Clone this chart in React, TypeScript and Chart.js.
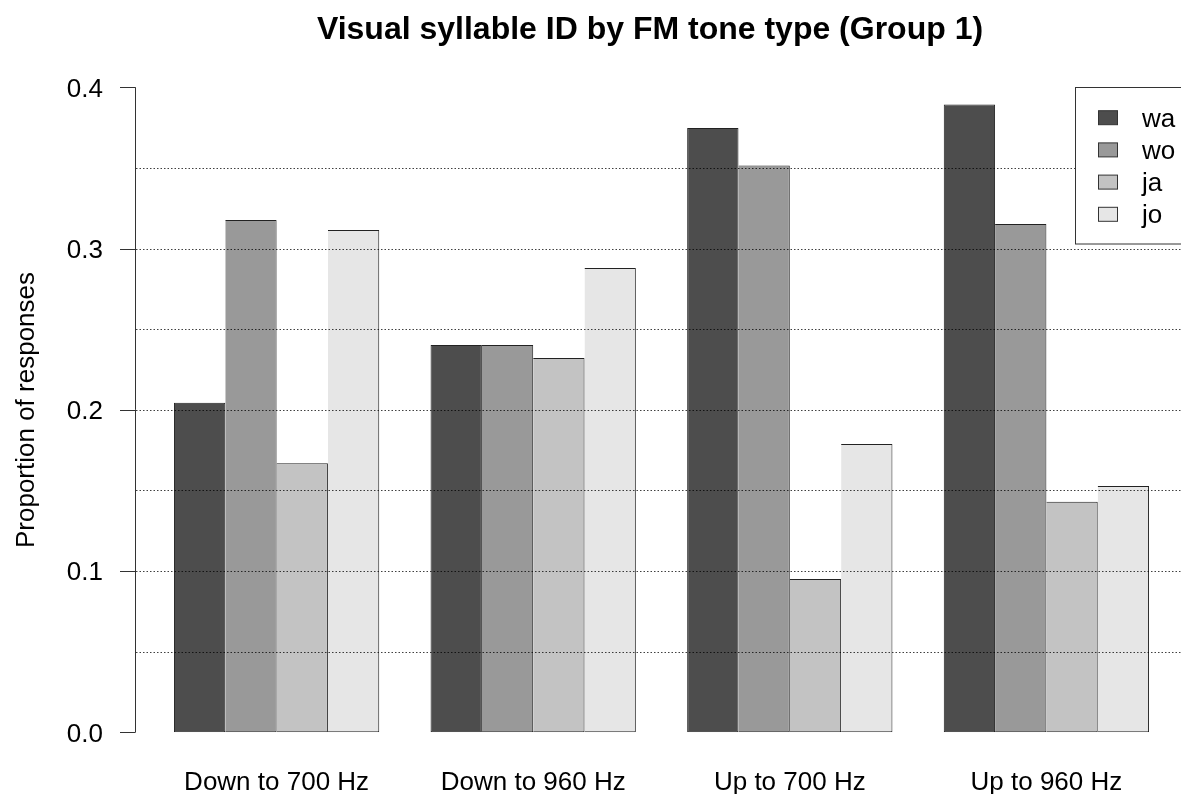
import React, { useEffect, useRef } from "react";
import { Chart, registerables } from "chart.js";

Chart.register(...registerables);

const categories = ["Down to 700 Hz", "Down to 960 Hz", "Up to 700 Hz", "Up to 960 Hz"];
const seriesNames = ["wa", "wo", "ja", "jo"];
const waValues = [0.2044, 0.2402, 0.3747, 0.3894];
const woValues = [0.3177, 0.2402, 0.3515, 0.3153];
const jaValues = [0.1668, 0.2321, 0.0951, 0.1429];
const joValues = [0.3115, 0.288, 0.1788, 0.1528];
const seriesColors = ["#4d4d4d", "#999999", "#c3c3c3", "#e6e6e6"];
const yTickValues = [0, 0.1, 0.2, 0.3, 0.4];
const yTickLabels = ["0.0", "0.1", "0.2", "0.3", "0.4"];
const gridValues = [0.05, 0.1, 0.15, 0.2, 0.25, 0.3, 0.35];
const titleText = "Visual syllable ID by FM tone type (Group 1)";
const yTitleText = "Proportion of responses";

const FONT = '"Liberation Sans", Arial, Helvetica, sans-serif';

const decorPlugin = {
  id: "decor",
  afterDatasetsDraw(chart: any) {
    const ctx = chart.ctx as CanvasRenderingContext2D;
    const y = chart.scales.y;
    const x = chart.scales.x;
    ctx.save();
    // dotted grid lines drawn over bars
    ctx.strokeStyle = "rgba(0,0,0,0.75)";
    ctx.lineWidth = 1;
    ctx.setLineDash([1.5, 2]);
    gridValues.forEach((v) => {
      const py = Math.round(y.getPixelForValue(v)) + 0.5;
      ctx.beginPath();
      ctx.moveTo(136, py);
      ctx.lineTo(chart.width, py);
      ctx.stroke();
    });
    ctx.setLineDash([]);

    // y axis
    const axisX = 135.5;
    ctx.strokeStyle = "#333";
    ctx.beginPath();
    ctx.moveTo(axisX, y.getPixelForValue(yTickValues[0]));
    ctx.lineTo(axisX, y.getPixelForValue(yTickValues[yTickValues.length - 1]));
    ctx.stroke();
    ctx.fillStyle = "#000";
    ctx.font = `26px ${FONT}`;
    ctx.textAlign = "right";
    ctx.textBaseline = "alphabetic";
    yTickValues.forEach((v, i) => {
      const py = y.getPixelForValue(v);
      ctx.beginPath();
      ctx.moveTo(120, Math.round(py) + 0.5);
      ctx.lineTo(axisX, Math.round(py) + 0.5);
      ctx.stroke();
      ctx.fillText(yTickLabels[i], 103, py + 9.3);
    });

    // x labels
    ctx.textAlign = "center";
    categories.forEach((c, i) => {
      ctx.fillText(c, x.getPixelForValue(i), 790);
    });

    // y title
    ctx.save();
    ctx.translate(33.5, 410);
    ctx.rotate(-Math.PI / 2);
    ctx.textAlign = "center";
    ctx.fillText(yTitleText, 0, 0);
    ctx.restore();

    // title
    ctx.font = `bold 32px ${FONT}`;
    ctx.textAlign = "center";
    ctx.fillText(titleText, 650, 38.5);

    // legend
    ctx.fillStyle = "#fff";
    ctx.fillRect(1075.5, 87.5, 120, 156.5);
    ctx.strokeStyle = "#333";
    ctx.strokeRect(1075.5, 87.5, 120, 156.5);
    ctx.font = `26px ${FONT}`;
    ctx.textAlign = "left";
    seriesNames.forEach((n, i) => {
      const base = 126.7 + i * 32.2;
      ctx.fillStyle = seriesColors[i];
      ctx.fillRect(1098.5, base - 16, 19, 14);
      ctx.strokeStyle = "#333";
      ctx.strokeRect(1098.5, base - 16, 19, 14);
      ctx.fillStyle = "#000";
      ctx.fillText(n, 1142, base);
    });
    ctx.restore();
  },
};

export default function App() {
  const ref = useRef<HTMLCanvasElement | null>(null);
  useEffect(() => {
    if (!ref.current) return;
    const values = [waValues, woValues, jaValues, joValues];
    const chart = new Chart(ref.current, {
      type: "bar",
      data: {
        labels: categories,
        datasets: seriesNames.map((n, i) => ({
          label: n,
          data: values[i],
          backgroundColor: seriesColors[i],
          borderColor: "#222",
          borderWidth: i === 0 ? 1 : { top: 1, right: 1, bottom: 1, left: 0 },
          borderSkipped: false,
          categoryPercentage: 0.8,
          barPercentage: 1.0,
        })),
      },
      options: {
        responsive: false,
        animation: false,
        layout: { padding: { left: 148.3, right: 6.3, top: 87.3, bottom: 61.7 } },
        plugins: { legend: { display: false }, title: { display: false }, tooltip: { enabled: false } },
        scales: {
          x: { display: false },
          y: { display: false, min: 0, max: 0.4 },
        },
      },
      plugins: [decorPlugin],
    });
    return () => chart.destroy();
  }, []);
  return (
    <div style={{ position: "absolute", left: 0, top: 0, width: 1181, height: 794, background: "#fff" }}>
      <canvas ref={ref} width={1181} height={794} style={{ display: "block", width: 1181, height: 794 }} />
    </div>
  );
}
